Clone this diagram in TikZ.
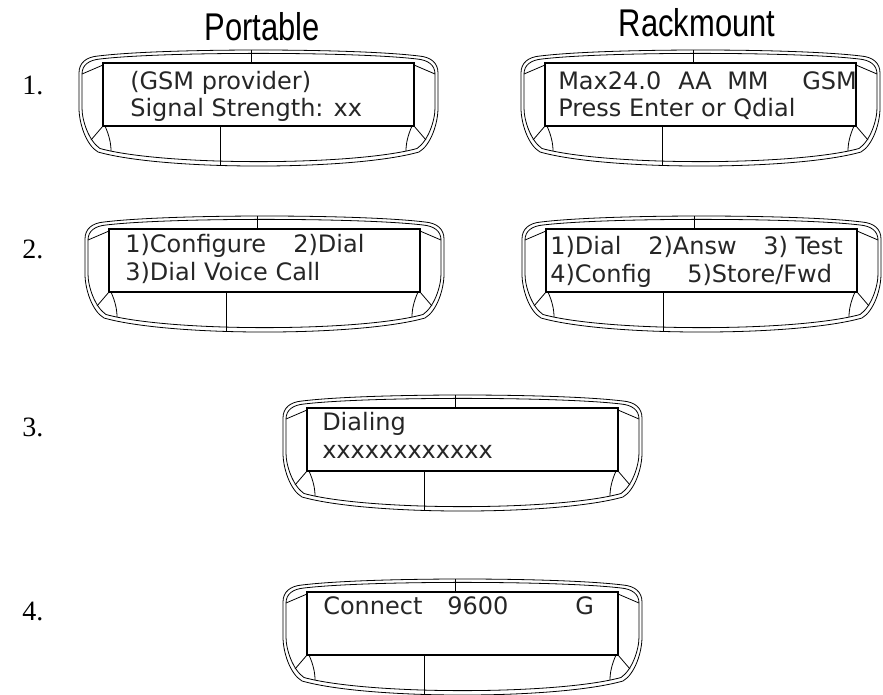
\documentclass[tikz,border=0pt]{standalone}
\usepackage{fontspec}
\newfontfamily\lcdfont{DejaVu Sans}
\newfontfamily\headfont[FakeStretch=0.8]{Liberation Sans}
\newfontfamily\numfont{Liberation Serif}
\tikzset{
  outl/.style={line width=0.6pt, line join=round},
  scr/.style={line width=1.3pt},
  inl/.style={line width=0.6pt},
  lcdtxt/.style={anchor=base west, inner sep=0pt, font=\lcdfont\fontsize{18}{20}\selectfont, text=black!85},
  head/.style={anchor=base, inner sep=0pt, font=\headfont\fontsize{29}{32}\selectfont},
  num/.style={anchor=base west, inner sep=0pt, font=\numfont\fontsize{21}{24}\selectfont},
}
\newcommand\lcdshape[2]{%
\begin{scope}[shift={(#1,#2)}]
\draw[outl] (-5,-7) .. controls (60,-15) and (251,-15) .. (316,-7)
  .. controls (328,-6) and (335,0) .. (335,10) -- (335,45)
  .. controls (335,60) and (328,82) .. (316,89)
  .. controls (250,107.7) and (61,107.7) .. (-5,89)
  .. controls (-17,82) and (-24,60) .. (-24,45) -- (-24,10)
  .. controls (-24,0) and (-17,-6) .. (-5,-7) -- cycle;
\draw[outl] (-3,-4) .. controls (60,-11.5) and (251,-11.5) .. (314,-4)
  .. controls (325,-3) and (332,2) .. (332,11) -- (332,45)
  .. controls (332,58) and (325,78) .. (314,85.5)
  .. controls (250,103) and (61,103) .. (-3,85.5)
  .. controls (-14,78) and (-21,58) .. (-21,45) -- (-21,11)
  .. controls (-21,2) and (-14,-3) .. (-3,-4) -- cycle;
\draw[scr] (0,0) rectangle (311,63);
\draw[inl] (148,0) -- (148,-13);
\draw[inl] (117,63) -- (117,102.5);
\draw[inl] (0,2) -- (-21,11);
\draw[inl] (311,2) -- (332,11);
\draw[inl] (0,63) -- (-12,77);
\draw[inl] (311,63) -- (323,77);
\draw[inl] (2,63) .. controls (6,72) and (8,80) .. (8,88);
\draw[inl] (309,63) .. controls (305,72) and (303,80) .. (303,88);
\end{scope}}
\begin{document}
\begin{tikzpicture}[x=0.75pt,y=-0.75pt]
\useasboundingbox (0,0) rectangle (883,694);
% headers
\node[head] (hp) at (262,40) {Portable};
\node[head] (hr) at (697,36) {Rackmount};
% row numbers
\node[num] (n1) at (22,94) {1.};
\node[num] (n2) at (22,258) {2.};
\node[num] (n3) at (22,436) {3.};
\node[num] (n4) at (22,620) {4.};
% displays
\lcdshape{103}{63}
\lcdshape{545}{63}
\lcdshape{109}{229}
\lcdshape{546}{229}
\lcdshape{307}{408}
\lcdshape{307}{592}
% row 1 texts
\node[lcdtxt] (p1a) at (130,89) {(GSM provider)};
\node[lcdtxt] (p1b) at (130,116) {Signal Strength: xx};
\node[lcdtxt] (r1a) at (558,89) {Max24.0};
\node[lcdtxt] (r1b) at (678,89) {AA};
\node[lcdtxt] (r1c) at (727,89) {MM};
\node[lcdtxt] (r1d) at (802,89) {GSM};
\node[lcdtxt] (r1e) at (558,116) {Press Enter or Qdial};
% row 2 texts
\node[lcdtxt] (p2a) at (125,252) {1)Configure};
\node[lcdtxt] (p2b) at (293,252) {2)Dial};
\node[lcdtxt] (p2c) at (125,280) {3)Dial Voice Call};
\node[lcdtxt] (r2a) at (550,254) {1)Dial};
\node[lcdtxt] (r2b) at (648,254) {2)Answ};
\node[lcdtxt] (r2c) at (763,254) {3) Test};
\node[lcdtxt] (r2d) at (550,282) {4)Config};
\node[lcdtxt] (r2e) at (687,282) {5)Store/Fwd};
% row 3
\node[lcdtxt] (d3a) at (322,430) {Dialing};
\node[lcdtxt] (d3b) at (322,458) {xxxxxxxxxxxx};
% row 4
\node[lcdtxt] (d4a) at (323,614) {Connect};
\node[lcdtxt] (d4b) at (447,614) {9600};
\node[lcdtxt] (d4c) at (575,614) {G};
\end{tikzpicture}
\end{document}
